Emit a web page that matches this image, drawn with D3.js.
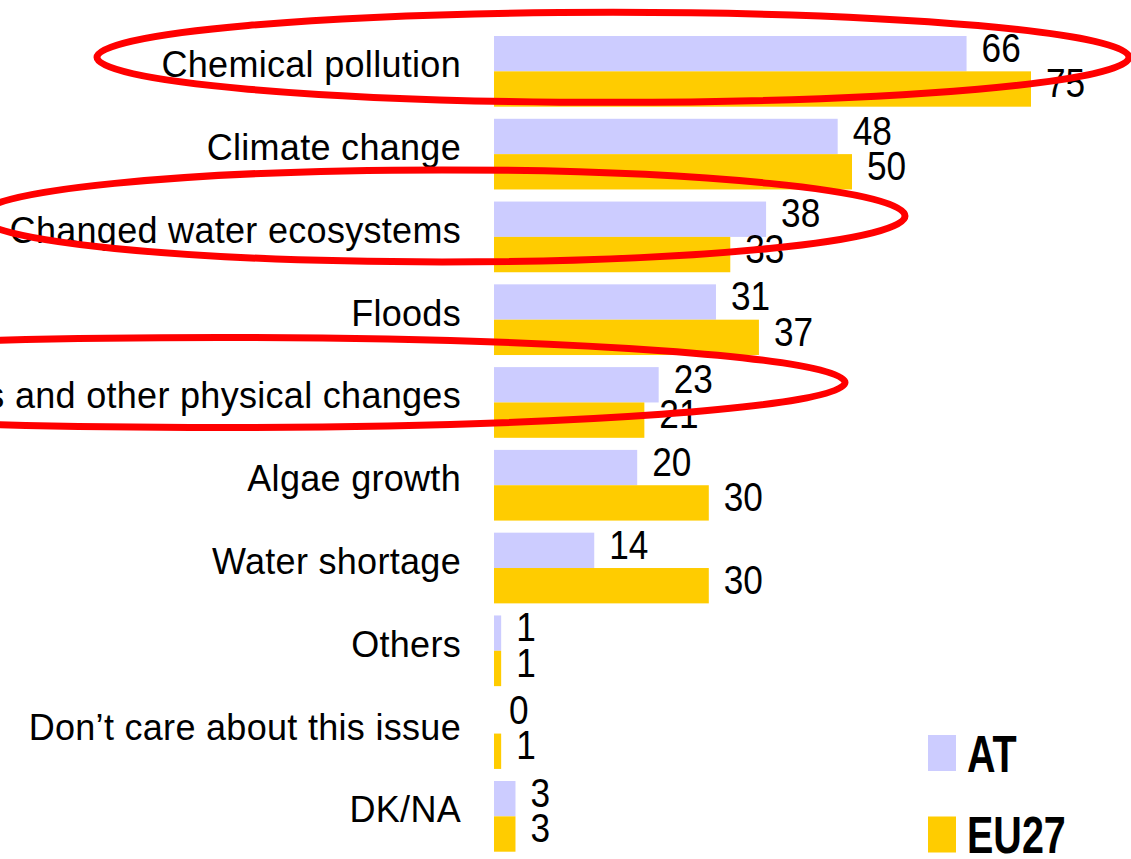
<!DOCTYPE html>
<html>
<head>
<meta charset="utf-8">
<script src="https://cdn.jsdelivr.net/npm/d3@7/dist/d3.min.js"></script>
<style>
  html, body { margin: 0; padding: 0; background: #fff; }
  svg { display: block; }
</style>
</head>
<body>
<svg id="chart" width="1131" height="859"></svg>
<script>
// Concerns about water: share of respondents (%)
const categories = [
  "Chemical pollution",
  "Climate change",
  "Changed water ecosystems",
  "Floods",
  "Dams and other physical changes",
  "Algae growth",
  "Water shortage",
  "Others",
  "Don\u2019t care about this issue",
  "DK/NA"
];
const seriesNames = ["AT", "EU27"];
const atValues = [66, 48, 38, 31, 23, 20, 14, 1, 0, 3];
const eu27Values = [75, 50, 33, 37, 21, 30, 30, 1, 1, 3];

// Rows circled in red
const highlighted = ["Chemical pollution", "Changed water ecosystems", "Dams and other physical changes"];

const colors = { AT: "#ccccff", EU27: "#ffcc00" };
const valuesBySeries = { AT: atValues, EU27: eu27Values };

const svg = d3.select("#chart");

const x = d3.scaleLinear().domain([0, 100]).range([494, 1210]);
const y = d3.scaleBand().domain(categories).range([36, 851.7])
  .paddingInner(0.146).paddingOuter(0);
const ySub = d3.scaleBand().domain(seriesNames).range([0, y.bandwidth()]).padding(0);

const rows = categories.map((c, i) => ({
  category: c,
  values: seriesNames.map(s => ({ series: s, value: valuesBySeries[s][i] }))
}));

const font = "'Liberation Sans', Arial, Helvetica, sans-serif";

// Category labels
svg.append("g")
  .selectAll("text")
  .data(categories)
  .join("text")
  .attr("x", 461)
  .attr("y", d => y(d) + y.bandwidth() / 2 + 6)
  .attr("text-anchor", "end")
  .attr("font-family", font)
  .attr("font-size", 36)
  .attr("letter-spacing", 0.3)
  .attr("fill", "#000")
  .text(d => d);

// Bars and value labels
const group = svg.append("g")
  .selectAll("g")
  .data(rows)
  .join("g")
  .attr("transform", d => `translate(0,${y(d.category)})`);

group.selectAll("rect")
  .data(d => d.values)
  .join("rect")
  .attr("x", x(0))
  .attr("y", d => ySub(d.series))
  .attr("width", d => x(d.value) - x(0))
  .attr("height", ySub.bandwidth())
  .attr("fill", d => colors[d.series]);

group.selectAll("text")
  .data(d => d.values)
  .join("text")
  .attr("transform", d => `translate(${x(d.value) + 15},${ySub(d.series) + ySub.bandwidth() - 9.5}) scale(0.88,1)`)
  .attr("font-family", font)
  .attr("font-size", 40)
  .attr("fill", "#000")
  .text(d => d.value);

// Legend
const legend = svg.append("g")
  .selectAll("g")
  .data(seriesNames)
  .join("g")
  .attr("transform", (d, i) => `translate(928,${735 + i * 81.5})`);

legend.append("rect")
  .attr("width", 28)
  .attr("height", 36)
  .attr("fill", d => colors[d]);

legend.append("text")
  .attr("transform", "translate(39,36.5) scale(0.76,1)")
  .attr("font-family", font)
  .attr("font-size", 52)
  .attr("font-weight", "bold")
  .attr("fill", "#000")
  .text(d => d);

// Red ellipses around the highlighted rows
const ellipseShapes = [
  { cx: 613, rx: 516, ry: 45, dy: -14 },
  { cx: 442, rx: 463, ry: 46, dy: -21 },
  { cx: 219, rx: 626, ry: 45, dy: -20 }
];

svg.append("g")
  .selectAll("ellipse")
  .data(highlighted.map((c, i) => ({ category: c, ...ellipseShapes[i] })))
  .join("ellipse")
  .attr("cx", d => d.cx)
  .attr("cy", d => y(d.category) + y.bandwidth() / 2 + d.dy)
  .attr("rx", d => d.rx)
  .attr("ry", d => d.ry)
  .attr("fill", "none")
  .attr("stroke", "#ff0000")
  .attr("stroke-width", 7);
</script>
</body>
</html>
